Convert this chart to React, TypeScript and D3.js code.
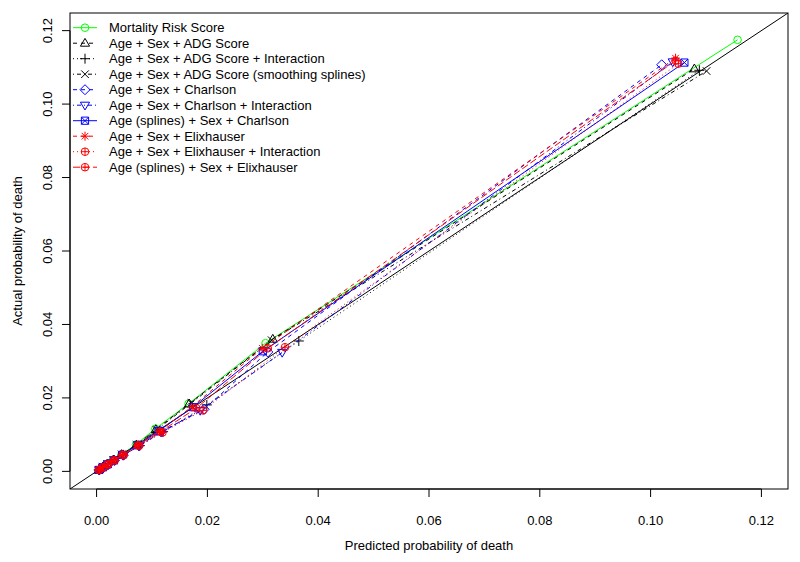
import React from "react";
import * as d3 from "d3";

const seriesNames = [
  "Mortality Risk Score",
  "Age + Sex + ADG Score",
  "Age + Sex + ADG Score + Interaction",
  "Age + Sex + ADG Score (smoothing splines)",
  "Age + Sex + Charlson",
  "Age + Sex + Charlson + Interaction",
  "Age (splines) + Sex + Charlson",
  "Age + Sex + Elixhauser",
  "Age + Sex + Elixhauser + Interaction",
  "Age (splines) + Sex + Elixhauser",
];
const seriesColors = ["#00ff00", "#000000", "#000000", "#000000", "#0000ff", "#0000ff", "#0000ff", "#ff0000", "#ff0000", "#ff0000"];
const seriesDash = ["", "4,4", "1,3", "1,3,4,3", "4,4", "1,3,4,3", "", "4,4", "1,3", "7,3"];
const seriesSymbols = ["circle", "triUp", "plus", "cross", "diamond", "triDown", "squareX", "star", "circlePlus", "circlePlus"];

// predicted (x) and actual (y) probability of death, by risk decile
const predMortality = [0.0004, 0.0011, 0.0019, 0.0030, 0.0045, 0.0071, 0.0106, 0.0166, 0.0305, 0.1157];
const actMortality = [0.0004, 0.0012, 0.0020, 0.0031, 0.0046, 0.0073, 0.0116, 0.0184, 0.0349, 0.1175];
const predADG = [0.0004, 0.0011, 0.0019, 0.0030, 0.0045, 0.0072, 0.0107, 0.0167, 0.0318, 0.1079];
const actADG = [0.0004, 0.0012, 0.0020, 0.0031, 0.0046, 0.0072, 0.0114, 0.0184, 0.0360, 0.1096];
const predADGInt = [0.0004, 0.0012, 0.0021, 0.0032, 0.0048, 0.0078, 0.0120, 0.0199, 0.0365, 0.1088];
const actADGInt = [0.0004, 0.0011, 0.0019, 0.0030, 0.0045, 0.0070, 0.0108, 0.0181, 0.0355, 0.1092];
const predADGSpl = [0.0004, 0.0011, 0.0019, 0.0030, 0.0045, 0.0072, 0.0108, 0.0171, 0.0316, 0.1101];
const actADGSpl = [0.0004, 0.0012, 0.0020, 0.0031, 0.0046, 0.0072, 0.0113, 0.0186, 0.0357, 0.1090];
const predCharl = [0.0005, 0.0012, 0.0021, 0.0032, 0.0048, 0.0076, 0.0116, 0.0194, 0.0309, 0.1020];
const actCharl = [0.0004, 0.0011, 0.0019, 0.0030, 0.0044, 0.0070, 0.0108, 0.0169, 0.0325, 0.1107];
const predCharlInt = [0.0005, 0.0012, 0.0021, 0.0033, 0.0049, 0.0077, 0.0118, 0.0187, 0.0335, 0.1040];
const actCharlInt = [0.0004, 0.0011, 0.0019, 0.0030, 0.0044, 0.0070, 0.0107, 0.0166, 0.0324, 0.1115];
const predCharlSpl = [0.0004, 0.0011, 0.0020, 0.0031, 0.0046, 0.0074, 0.0112, 0.0174, 0.0300, 0.1061];
const actCharlSpl = [0.0004, 0.0011, 0.0019, 0.0030, 0.0045, 0.0071, 0.0110, 0.0175, 0.0327, 0.1113];
const predElix = [0.0004, 0.0011, 0.0020, 0.0031, 0.0046, 0.0074, 0.0113, 0.0172, 0.0299, 0.1045];
const actElix = [0.0004, 0.0011, 0.0019, 0.0030, 0.0045, 0.0071, 0.0109, 0.0176, 0.0335, 0.1125];
const predElixInt = [0.0005, 0.0012, 0.0021, 0.0033, 0.0049, 0.0077, 0.0119, 0.0192, 0.0340, 0.1050];
const actElixInt = [0.0004, 0.0011, 0.0019, 0.0030, 0.0044, 0.0070, 0.0106, 0.0166, 0.0338, 0.1110];
const predElixSpl = [0.0004, 0.0011, 0.0020, 0.0031, 0.0047, 0.0075, 0.0115, 0.0180, 0.0309, 0.1045];
const actElixSpl = [0.0004, 0.0011, 0.0019, 0.0030, 0.0045, 0.0071, 0.0108, 0.0172, 0.0335, 0.1118];

const xTicks = [0, 0.02, 0.04, 0.06, 0.08, 0.1, 0.12];
const yTicks = [0, 0.02, 0.04, 0.06, 0.08, 0.1, 0.12];
const xTitle = "Predicted probability of death";
const yTitle = "Actual probability of death";

const preds = [predMortality, predADG, predADGInt, predADGSpl, predCharl, predCharlInt, predCharlSpl, predElix, predElixInt, predElixSpl];
const acts = [actMortality, actADG, actADGInt, actADGSpl, actCharl, actCharlInt, actCharlSpl, actElix, actElixInt, actElixSpl];

const W = 800, H = 562;
const L = 70, R = 788, T = 13, B = 489;
const FONT = "'Liberation Sans', Arial, Helvetica, sans-serif";

function Marker({ type, x, y, color }: { type: string; x: number; y: number; color: string }) {
  const s = { fill: "none", stroke: color, strokeWidth: 1 };
  const r = 3.8;
  switch (type) {
    case "circle":
      return <circle cx={x} cy={y} r={r} {...s} />;
    case "triUp":
      return <path d={`M${x},${y - 4.8}L${x + 4.6},${y + 3}L${x - 4.6},${y + 3}Z`} {...s} />;
    case "triDown":
      return <path d={`M${x},${y + 4.8}L${x + 4.6},${y - 3}L${x - 4.6},${y - 3}Z`} {...s} />;
    case "plus":
      return <path d={`M${x - 5},${y}H${x + 5}M${x},${y - 5}V${y + 5}`} {...s} />;
    case "cross":
      return <path d={`M${x - 3.8},${y - 3.8}L${x + 3.8},${y + 3.8}M${x - 3.8},${y + 3.8}L${x + 3.8},${y - 3.8}`} {...s} />;
    case "diamond":
      return <path d={`M${x},${y - 5}L${x + 5},${y}L${x},${y + 5}L${x - 5},${y}Z`} {...s} />;
    case "squareX":
      return <path d={`M${x - 3.6},${y - 3.6}H${x + 3.6}V${y + 3.6}H${x - 3.6}ZM${x - 3.6},${y - 3.6}L${x + 3.6},${y + 3.6}M${x - 3.6},${y + 3.6}L${x + 3.6},${y - 3.6}`} {...s} />;
    case "star":
      return <path d={`M${x - 4.5},${y}H${x + 4.5}M${x},${y - 4.5}V${y + 4.5}M${x - 3.3},${y - 3.3}L${x + 3.3},${y + 3.3}M${x - 3.3},${y + 3.3}L${x + 3.3},${y - 3.3}`} {...s} />;
    case "circlePlus":
      return (
        <g>
          <circle cx={x} cy={y} r={r} {...s} />
          <path d={`M${x - r},${y}H${x + r}M${x},${y - r}V${y + r}`} {...s} />
        </g>
      );
    default:
      return null;
  }
}

export default function App() {
  const x = d3.scaleLinear().domain([-0.0048, 0.1248]).range([L, R]);
  const y = d3.scaleLinear().domain([-0.0048, 0.1248]).range([B, T]);
  const line = d3.line<[number, number]>().x((d) => x(d[0])).y((d) => y(d[1]));
  const fmt = d3.format(".2f");

  return (
    <svg width={W} height={H} style={{ position: "absolute", left: 0, top: 0, background: "#fff" }} fontFamily={FONT}>
      <rect x={0} y={0} width={W} height={H} fill="#fff" />
      <defs>
        <clipPath id="plotclip">
          <rect x={L} y={T} width={R - L} height={B - T} />
        </clipPath>
      </defs>
      {/* diagonal y = x */}
      <g clipPath="url(#plotclip)">
        <line x1={x(-0.0048)} y1={y(-0.0048)} x2={x(0.1248)} y2={y(0.1248)} stroke="#000" strokeWidth={1} />
        {preds.map((p, i) => {
          const pts = p.map((v, j) => [v, acts[i][j]] as [number, number]);
          return (
            <g key={i}>
              <path d={line(pts) || ""} fill="none" stroke={seriesColors[i]} strokeWidth={1} strokeDasharray={seriesDash[i] || undefined} />
              {pts.map((d, j) => (
                <Marker key={j} type={seriesSymbols[i]} x={x(d[0])} y={y(d[1])} color={seriesColors[i]} />
              ))}
            </g>
          );
        })}
      </g>
      {/* box */}
      <rect x={L} y={T} width={R - L} height={B - T} fill="none" stroke="#000" strokeWidth={1} />
      {/* x axis */}
      <line x1={x(xTicks[0])} x2={x(xTicks[xTicks.length - 1])} y1={B} y2={B} stroke="#000" />
      {xTicks.map((t) => (
        <g key={t}>
          <line x1={x(t)} x2={x(t)} y1={B} y2={B + 8} stroke="#000" />
          <text x={x(t)} y={B + 36} textAnchor="middle" fontSize={13}>{fmt(t)}</text>
        </g>
      ))}
      <text x={(L + R) / 2} y={550} textAnchor="middle" fontSize={13}>{xTitle}</text>
      {/* y axis */}
      <line y1={y(yTicks[0])} y2={y(yTicks[yTicks.length - 1])} x1={L} x2={L} stroke="#000" />
      {yTicks.map((t) => (
        <g key={t}>
          <line y1={y(t)} y2={y(t)} x1={L} x2={L - 8} stroke="#000" />
          <text transform={`translate(${L - 18},${y(t)}) rotate(-90)`} textAnchor="middle" fontSize={13}>{fmt(t)}</text>
        </g>
      ))}
      <text transform={`translate(22,${(T + B) / 2}) rotate(-90)`} textAnchor="middle" fontSize={13}>{yTitle}</text>
      {/* legend */}
      {seriesNames.map((n, i) => {
        const ly = 27.7 + i * 15.5;
        return (
          <g key={n}>
            <line x1={73} x2={97} y1={ly} y2={ly} stroke={seriesColors[i]} strokeDasharray={seriesDash[i] || undefined} />
            <Marker type={seriesSymbols[i]} x={85} y={ly} color={seriesColors[i]} />
            <text x={109} y={ly + 4.7} fontSize={13}>{n}</text>
          </g>
        );
      })}
    </svg>
  );
}
